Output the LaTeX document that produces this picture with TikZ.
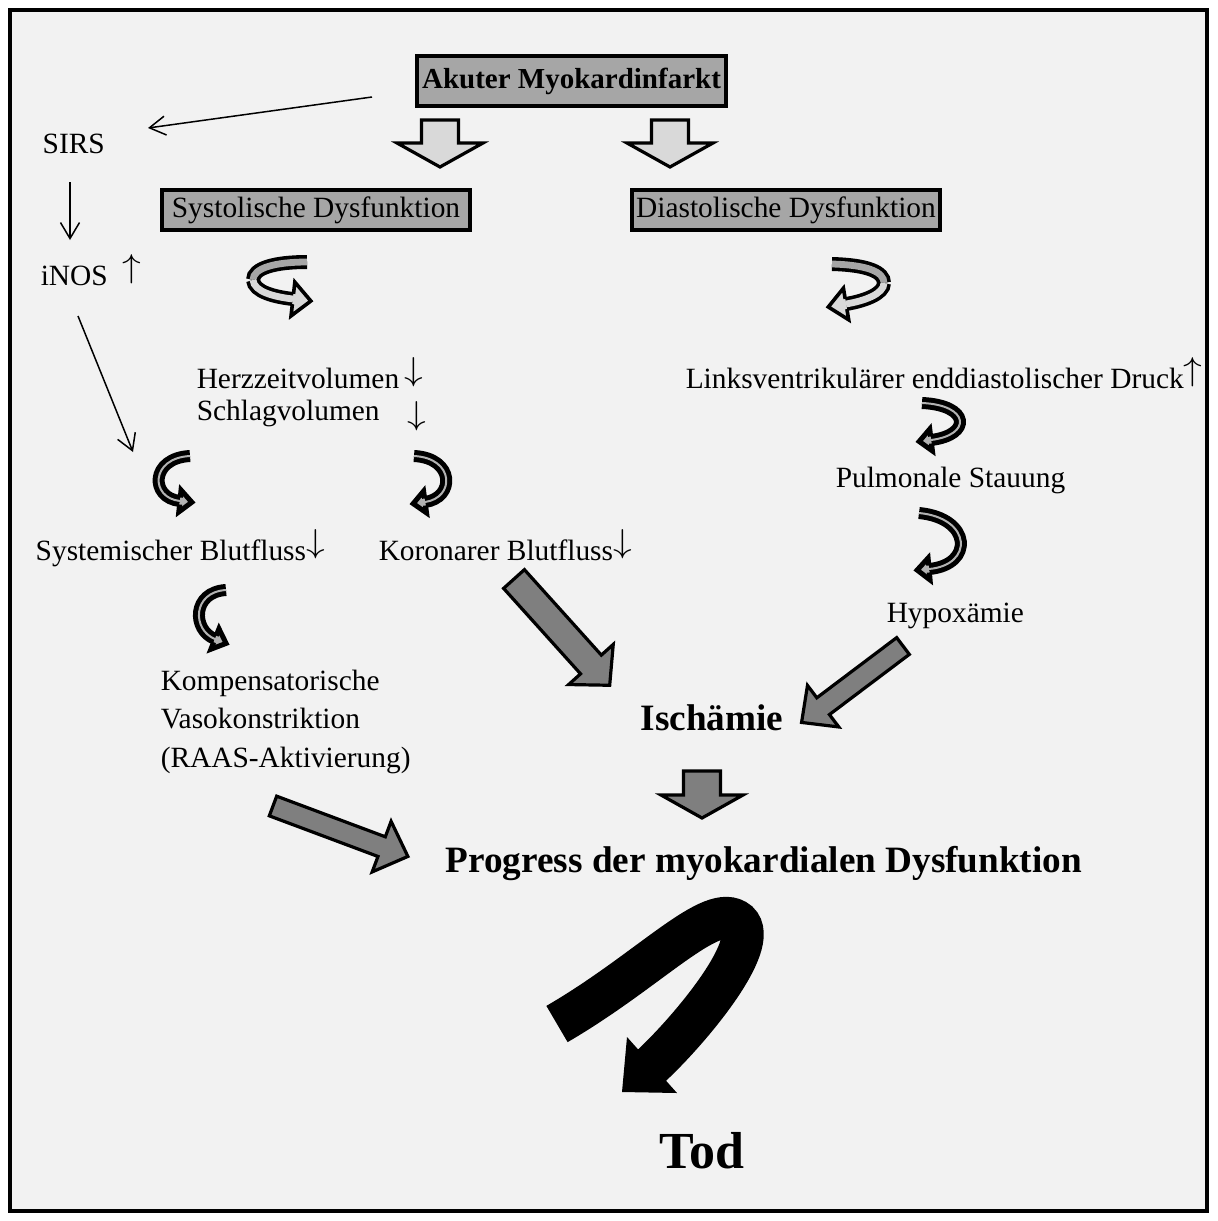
\documentclass[tikz,border=0pt]{standalone}
\usepackage{fontspec}
\setmainfont{Liberation Serif}
\usepackage{tikz}
\usetikzlibrary{calc}
\usetikzlibrary{arrows.meta}
\usetikzlibrary{decorations.markings}
\definecolor{bgpanel}{HTML}{F2F2F2}
\definecolor{boxgray}{HTML}{A6A6A6}
\definecolor{palegray}{HTML}{D9D9D9}
\definecolor{arrgray}{HTML}{7F7F7F}
\newcommand{\arrdown}{\raisebox{0.25em}{\scalebox{1.3}[1.15]{$\downarrow$}}}
\newcommand{\arrup}{\raisebox{0.25em}{\scalebox{1.3}[1.15]{$\uparrow$}}}
\tikzset{every picture/.style={line width=0.75pt}}
\tikzset{
  lbl/.style={anchor=base west, inner sep=0pt, font=\fontsize{14.7}{19.25}\selectfont},
  boldlbl/.style={anchor=base west, inner sep=0pt, font=\fontsize{18.6}{22}\selectfont\bfseries},
  headbox/.style={draw, line width=2pt, fill=boxgray, inner sep=0pt, minimum width=154.5pt, minimum height=25pt, font=\fontsize{14.5}{17}\selectfont\bfseries},
  dysbox/.style={draw, line width=2pt, fill=boxgray, inner sep=0pt, minimum width=154pt, minimum height=20pt, font=\fontsize{14.7}{17}\selectfont},
  thinarr/.style={line width=0.75pt, -{Straight Barb[length=8pt,width=9.5pt]}},
  blockarr/.style={draw, line width=1.6pt, line join=miter, fill=#1},
  ribbonback/.style n args={3}{double=#1, line width=#2, double distance=#3, line cap=butt},
  ribbon/.style n args={5}{double=#1, line width=#2, double distance=#3, line cap=butt,
    postaction={decorate, decoration={markings, mark=at position 0.999 with {
      \fill[#1] (0pt,-#4) -- (#5,0pt) -- (0pt,#4) -- cycle;
      \draw[line width=#2, line join=miter] (0pt,{#3/2+#2/2}) -- (0pt,#4) -- (#5,0pt) -- (0pt,-#4) -- (0pt,{-#3/2-#2/2});
    }}}},
  hook/.style={ribbon={gray!60}{2.5pt}{1pt}{5.5pt}{6pt}},
}

\begin{document}
\begin{tikzpicture}[x=0.5pt,y=0.5pt,yscale=-1,xscale=1]
\useasboundingbox (0,0) rectangle (1217,1221);
%Frame
\draw[line width=2.2pt, fill=bgpanel] (10,10) rectangle (1207,1211);

% Boxes
\node[headbox] (akut) at (571.5,81) {Akuter Myokardinfarkt};
\node[dysbox] (sys) at (316,210) {Systolische Dysfunktion};
\node[dysbox] (dia) at (786,210) {Diastolische Dysfunktion};

% Text Nodes
\node[lbl] (sirs) at (42,153) {SIRS};
\node[lbl] (inos) at (40,285) {iNOS\enspace\arrup};
\node[lbl] (hzv) at (196,388) {Herzzeitvolumen\,\arrdown};
\node[lbl] (sv) at (196,420) {Schlagvolumen};
\node[lbl] (svdown) at (407,432) {\arrdown};
\node[lbl] (sbf) at (35,560) {Systemischer Blutfluss\arrdown};
\node[lbl] (kbf) at (378,560) {Koronarer Blutfluss\arrdown};
\node[lbl, align=left] (komp) at (160,767) {Kompensatorische\\Vasokonstriktion\\(RAAS-Aktivierung)};
\node[lbl] (lvedp) at (685,388) {Linksventrikulärer enddiastolischer Druck\arrup};
\node[lbl] (stau) at (835,487) {Pulmonale Stauung};
\node[lbl] (hypox) at (886,622) {Hypoxämie};
\node[boldlbl] (isch) at (640,730) {Ischämie};
\node[boldlbl] (prog) at (445,872) {Progress der myokardialen Dysfunktion};
\node[anchor=base west, inner sep=0pt, font=\fontsize{26}{30}\selectfont\bfseries] (tod) at (659,1168) {Tod};

% Thin arrows
\draw[thinarr] ($(akut.west)+(-43,16)$) -- ($(sirs.base west)+(106,-25)$);
\draw[thinarr] ($(sirs.base west)+(28,29)$) -- ($(inos.base west)+(30,-45)$);
\draw[thinarr] ($(inos.base west)+(38,31)$) -- ($(sbf.base west)+(98,-108)$);

% Block arrows
\begin{scope}[shift={(440,120)},rotate=90]
\draw[blockarr=palegray] (0,-18.5) -- (23,-18.5) -- (23,-43) -- (47,0) -- (23,43) -- (23,18.5) -- (0,18.5) -- cycle;
\end{scope}
\begin{scope}[shift={(670,120)},rotate=90]
\draw[blockarr=palegray] (0,-18.5) -- (23,-18.5) -- (23,-43) -- (47,0) -- (23,43) -- (23,18.5) -- (0,18.5) -- cycle;
\end{scope}
\begin{scope}[shift={(702,771)},rotate=90]
\draw[blockarr=arrgray] (0,-18.5) -- (24,-18.5) -- (24,-41) -- (47,0) -- (24,41) -- (24,18.5) -- (0,18.5) -- cycle;
\end{scope}
\begin{scope}[shift={(514,579)},rotate=48]
\draw[blockarr=arrgray] (0,-14) -- (115,-14) -- (115,-30) -- (143,0) -- (115,30) -- (115,14) -- (0,14) -- cycle;
\end{scope}
\begin{scope}[shift={(903,646)},rotate=143]
\draw[blockarr=arrgray] (0,-10.5) -- (100,-10.5) -- (100,-26) -- (127,0) -- (100,26) -- (100,10.5) -- (0,10.5) -- cycle;
\end{scope}
\begin{scope}[shift={(273,806)},rotate=20.5]
\draw[blockarr=arrgray] (0,-10.5) -- (116,-10.5) -- (116,-27) -- (144,0) -- (116,27) -- (116,10.5) -- (0,10.5) -- cycle;
\end{scope}

% Twisted arrows
\draw[ribbonback={boxgray}{1.8pt}{3.4pt}] (307,262) .. controls (275,262) and (253,268) .. (253,280);
\draw[ribbon={palegray}{1.8pt}{3.4pt}{8.5pt}{9pt}] (253,280) .. controls (254,292) and (275,297) .. (293,299);
\draw[ribbonback={boxgray}{1.8pt}{3.4pt}] (832,264) .. controls (868,265) and (884,272) .. (884,283);
\draw[ribbon={palegray}{1.8pt}{3.4pt}{8pt}{9pt}] (884,283) .. controls (884,294) and (864,301) .. (846,304);

% Hooks
\draw[hook] (190,456) .. controls (150,458) and (150,498) .. (180,501);
\draw[hook] (414,456) .. controls (455,458) and (455,498) .. (425,502);
\draw[hook] (922,403) .. controls (970,405) and (972,435) .. (931,440);
\draw[hook] (919,513) .. controls (972,518) and (974,565) .. (929,569);
\draw[hook] (226,590) .. controls (192,592) and (192,630) .. (215,639);

% Big arrow
\draw[line width=21pt] (557,1024) .. controls (650,970) and (712,900) .. (738,922) .. controls (762,944) and (689,1031) .. (650,1067);
\fill (627,1037) -- (622,1092) -- (677,1093) -- cycle;

\end{tikzpicture}
\end{document}
